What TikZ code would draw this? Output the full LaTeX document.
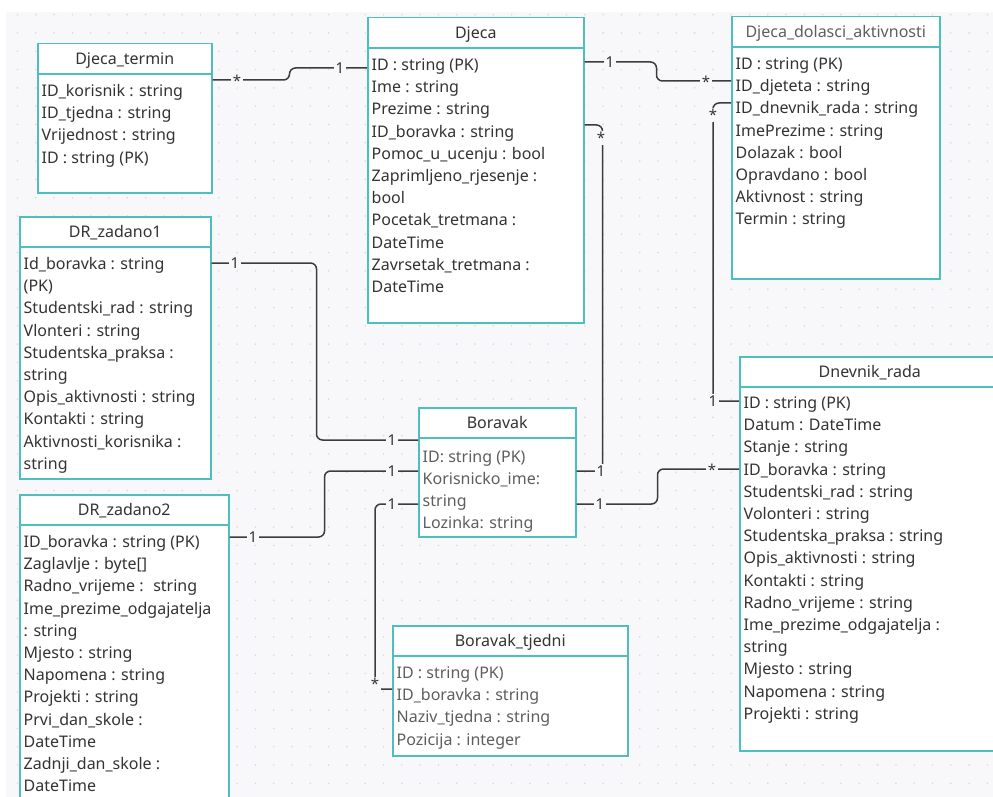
\documentclass[tikz,border=0pt]{standalone}
\usepackage{fontspec}
\setmainfont{Noto Sans}

\definecolor{boxteal}{HTML}{4DBFC0}
\definecolor{panelgray}{HTML}{F8F8FA}
\definecolor{dotgray}{HTML}{D9D9DE}
\definecolor{linkgray}{HTML}{3C3C3C}
\definecolor{textdark}{HTML}{333333}
\definecolor{textmid}{HTML}{5E5E5E}

\tikzset{
  classbox/.style={draw=boxteal, line width=1.5pt, fill=white, anchor=north west, inner sep=0pt},
  boxline/.style={draw=boxteal, line width=1.5pt},
  classhead/.style={font=\fontsize{16}{19}\selectfont, text=textdark, inner sep=0pt, text height=12, text depth=4},
  attr/.style={font=\fontsize{16}{19}\selectfont, text=textdark, anchor=west, inner sep=0pt, text height=12, text depth=4},
  link/.style={draw=linkgray, line width=1.5pt, rounded corners=6},
  mult/.style={font=\fontsize{15}{18}\selectfont, text=textdark, fill=panelgray, inner sep=1.5pt},
}

\begin{document}
\begin{tikzpicture}[x=1pt, y=-1pt]
\clip (0,0) rectangle (993,797);
\fill[white] (0,0) rectangle (993,797);
\fill[panelgray] (6,12) rectangle (993,797);
\foreach \i in {0,...,53}
  \foreach \j in {0,...,43}
    \fill[dotgray] ({17.5+18.3*\i},{14.7+18.3*\j}) circle (0.9);

% Djeca_termin
\node[classbox, minimum width=174, minimum height=149] (dtermin) at (37,43) {};
\draw[boxline] ([yshift=-31]dtermin.north west) -- ([yshift=-31]dtermin.north east);
\node[classhead] (dterminhead) at ([yshift=-17.5]dtermin.north) {Djeca\_termin};
\foreach \t [count=\i] in {ID\_korisnik : string, ID\_tjedna : string, Vrijednost : string, ID : string (PK)}
  \node[attr] (dtermin-\i) at ([xshift=4.5, yshift={-49.5-22.2*(\i-1)}]dtermin.north west) {\t};

% Djeca
\node[classbox, minimum width=216, minimum height=305] (djeca) at (367,17) {};
\draw[boxline] ([yshift=-31]djeca.north west) -- ([yshift=-31]djeca.north east);
\node[classhead] (djecahead) at ([yshift=-17.5]djeca.north) {Djeca};
\foreach \t [count=\i] in {ID : string (PK), Ime : string, Prezime : string, ID\_boravka : string,
    Pomoc\_u\_ucenju : bool, Zaprimljeno\_rjesenje :, bool, Pocetak\_tretmana :, DateTime,
    Zavrsetak\_tretmana :, DateTime}
  \node[attr] (djeca-\i) at ([xshift=4.5, yshift={-49.5-22.2*(\i-1)}]djeca.north west) {\t};

% Djeca_dolasci_aktivnosti
\node[classbox, minimum width=208, minimum height=262] (ddolasci) at (731,16) {};
\draw[boxline] ([yshift=-31]ddolasci.north west) -- ([yshift=-31]ddolasci.north east);
\node[classhead, text=textmid] (ddolascihead) at ([yshift=-17.5]ddolasci.north) {Djeca\_dolasci\_aktivnosti};
\foreach \t [count=\i] in {ID : string (PK), ID\_djeteta : string, ID\_dnevnik\_rada : string,
    ImePrezime : string, Dolazak : bool, Opravdano : bool, Aktivnost : string, Termin : string}
  \node[attr] (ddolasci-\i) at ([xshift=4.5, yshift={-49.5-22.2*(\i-1)}]ddolasci.north west) {\t};

% DR_zadano1
\node[classbox, minimum width=191, minimum height=262] (drz1) at (19,216) {};
\draw[boxline] ([yshift=-31]drz1.north west) -- ([yshift=-31]drz1.north east);
\node[classhead] (drz1head) at ([yshift=-17.5]drz1.north) {DR\_zadano1};
\foreach \t [count=\i] in {Id\_boravka : string, {(PK)}, Studentski\_rad : string, Vlonteri : string,
    Studentska\_praksa :, string, Opis\_aktivnosti : string, Kontakti : string,
    Aktivnosti\_korisnika :, string}
  \node[attr] (drz1-\i) at ([xshift=4.5, yshift={-49.5-22.2*(\i-1)}]drz1.north west) {\t};

% DR_zadano2
\node[classbox, minimum width=209, minimum height=330] (drz2) at (19,494) {};
\draw[boxline] ([yshift=-31]drz2.north west) -- ([yshift=-31]drz2.north east);
\node[classhead] (drz2head) at ([yshift=-17.5]drz2.north) {DR\_zadano2};
\foreach \t [count=\i] in {ID\_boravka : string (PK), {Zaglavlje : byte[]}, Radno\_vrijeme :~ string,
    Ime\_prezime\_odgajatelja, : string, Mjesto : string, Napomena : string, Projekti : string,
    Prvi\_dan\_skole :, DateTime, Zadnji\_dan\_skole :, DateTime}
  \node[attr] (drz2-\i) at ([xshift=4.5, yshift={-49.5-22.2*(\i-1)}]drz2.north west) {\t};

% Boravak
\node[classbox, minimum width=157, minimum height=129] (boravak) at (418,407) {};
\draw[boxline] ([yshift=-31]boravak.north west) -- ([yshift=-31]boravak.north east);
\node[classhead] (boravakhead) at ([yshift=-17.5]boravak.north) {Boravak};
\foreach \t [count=\i] in {ID: string (PK), Korisnicko\_ime:, string, Lozinka: string}
  \node[attr, text=textmid] (boravak-\i) at ([xshift=4.5, yshift={-51-22.2*(\i-1)}]boravak.north west) {\t};

% Boravak_tjedni
\node[classbox, minimum width=235, minimum height=130] (btjedni) at (392,625) {};
\draw[boxline] ([yshift=-31]btjedni.north west) -- ([yshift=-31]btjedni.north east);
\node[classhead] (btjednihead) at ([yshift=-17.5]btjedni.north) {Boravak\_tjedni};
\foreach \t [count=\i] in {ID : string (PK), ID\_boravka : string, Naziv\_tjedna : string, Pozicija : integer}
  \node[attr, text=textmid] (btjedni-\i) at ([xshift=4.5, yshift={-49.5-22.2*(\i-1)}]btjedni.north west) {\t};

% Dnevnik_rada
\node[classbox, minimum width=260, minimum height=394] (dnevnik) at (739,356) {};
\draw[boxline] ([yshift=-31]dnevnik.north west) -- ([yshift=-31]dnevnik.north east);
\node[classhead] (dnevnikhead) at ([yshift=-17.5]dnevnik.north) {Dnevnik\_rada};
\foreach \t [count=\i] in {ID : string (PK), Datum : DateTime, Stanje : string, ID\_boravka : string,
    Studentski\_rad : string, Volonteri : string, Studentska\_praksa : string, Opis\_aktivnosti : string,
    Kontakti : string, Radno\_vrijeme : string, Ime\_prezime\_odgajatelja :, string, Mjesto : string,
    Napomena : string, Projekti : string}
  \node[attr] (dnevnik-\i) at ([xshift=4.5, yshift={-48.5-22.2*(\i-1)}]dnevnik.north west) {\t};

% Connectors
\draw[link] ([yshift=-37]dtermin.north east) -- ++(77,0) |- ([yshift=-51]djeca.north west);
\draw[link] ([yshift=-45]djeca.north east) -- ++(72,0) |- ([yshift=-65]ddolasci.north west);
\draw[link] ([yshift=-64]boravak.north east) -- ++(26,0) |- ([yshift=-108]djeca.north east);
\draw[link] ([yshift=-45]dnevnik.north west) -- ++(-26,0) |- ([yshift=-87]ddolasci.north west);
\draw[link] ([yshift=-47]drz1.north east) -- ++(105,0) |- ([yshift=-33]boravak.north west);
\draw[link] ([yshift=-43]drz2.north east) -- ++(95,0) |- ([yshift=-64]boravak.north west);
\draw[link] ([yshift=-64]btjedni.north west) -- ++(-17,0) |- ([yshift=-97]boravak.north west);
\draw[link] ([yshift=-97]boravak.north east) -- ++(81,0) |- ([yshift=-113]dnevnik.north west);

% Multiplicities
\node[mult] (m1a) at (237,81) {*};
\node[mult] (m1b) at (340,68) {1};
\node[mult] (m2a) at (610,62) {1};
\node[mult] (m2b) at (706,82) {*};
\node[mult] (m3a) at (601,471) {1};
\node[mult] (m3b) at (601,138) {*};
\node[mult] (m4a) at (713,401) {1};
\node[mult] (m4b) at (713,115) {*};
\node[mult] (m5a) at (235,263) {1};
\node[mult] (m5b) at (392,440) {1};
\node[mult] (m6a) at (253,537) {1};
\node[mult] (m6b) at (392,471) {1};
\node[mult] (m7a) at (392,504) {1};
\node[mult] (m7b) at (375,684) {*};
\node[mult] (m8a) at (600,504) {1};
\node[mult] (m8b) at (712,470) {*};
\end{tikzpicture}
\end{document}
